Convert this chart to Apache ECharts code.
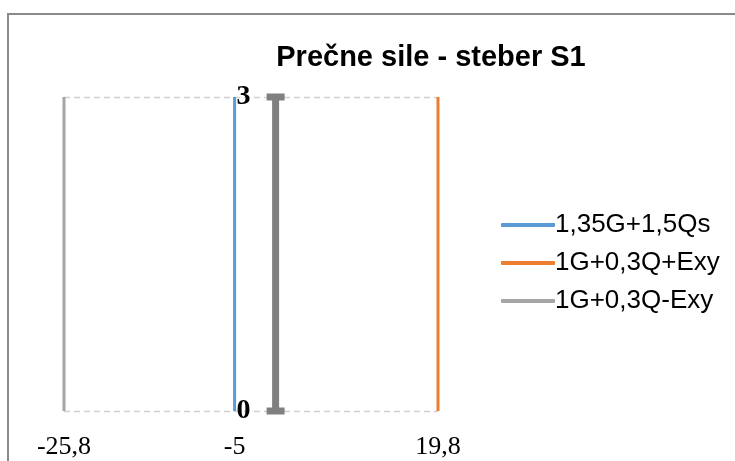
<!DOCTYPE html>
<html><head><meta charset="utf-8">
<script src="https://cdn.jsdelivr.net/npm/echarts@6/dist/echarts.min.js"></script>
<style>html,body{margin:0;padding:0;background:#fff}#c{width:735px;height:461px}</style>
</head><body><div id="c"></div>
<script>
const title = 'Prečne sile - steber S1';
const seriesNames = ['1,35G+1,5Qs', '1G+0,3Q+Exy', '1G+0,3Q-Exy'];
const seriesColors = ['#5B9BD5', '#ED7D31', '#A5A5A5'];
const heights = [0, 3];
const forceBlue = [-5, -5];
const forceOrange = [19.8, 19.8];
const forceGray = [-25.8, -25.8];
const xTickValues = [-25.8, -5, 19.8];
const columnX = [0, 0];

const X_MIN = -25.8, X_MAX = 19.8;
const GRID_LEFT = 64, GRID_RIGHT = 297;
const fmt = v => String(Math.round(v * 10) / 10).replace('.', ',');
const pairs = (xs) => xs.map((x, i) => [x, heights[i]]);
const plotW = 735 - GRID_LEFT - GRID_RIGHT;
const yAxisOffset = -((0 - X_MIN) / (X_MAX - X_MIN)) * plotW;

const chart = echarts.init(document.getElementById('c'));
chart.setOption({
  animation: false,
  graphic: [{ type: 'rect', shape: { x: 8, y: 14, width: 900, height: 600 }, style: { fill: 'none', stroke: '#8a8a8a', lineWidth: 2 }, silent: true }],
  title: { text: title, left: 426, textAlign: 'center', top: 38, textStyle: { fontFamily: 'Liberation Sans', fontWeight: 'bold', fontSize: 29, color: '#000' } },
  grid: { left: GRID_LEFT, right: GRID_RIGHT, top: 97, bottom: 50, containLabel: false },
  legend: {
    orient: 'vertical', left: 496, top: 207, itemWidth: 54, itemHeight: 4, itemGap: 12,
    icon: 'roundRect',
    data: seriesNames,
    textStyle: { fontFamily: 'Liberation Sans', fontSize: 26, lineHeight: 26, color: '#000', padding: [0, 0, 0, -5] }
  },
  xAxis: {
    type: 'value', min: X_MIN, max: X_MAX,
    axisLine: { show: false }, axisTick: { show: false }, splitLine: { show: false },
    axisLabel: { customValues: xTickValues, formatter: fmt, margin: 23, fontFamily: 'Liberation Serif', fontSize: 26, color: '#000' }
  },
  yAxis: {
    type: 'value', min: 0, max: 3, interval: 3, offset: yAxisOffset,
    axisLine: { show: false },
    axisTick: { show: false },
    axisLabel: { margin: 25, fontFamily: 'Liberation Serif', fontWeight: 'bold', fontSize: 28, color: '#000' },
    splitLine: { show: true, lineStyle: { color: '#D0D0D0', type: [6, 4], width: 1.3 } }
  },
  series: [
    { name: seriesNames[0], type: 'line', data: pairs(forceBlue), symbol: 'none', lineStyle: { width: 3, color: seriesColors[0] }, itemStyle: { color: seriesColors[0] }, z: 3 },
    { name: seriesNames[1], type: 'line', data: pairs(forceOrange), symbol: 'none', lineStyle: { width: 3, color: seriesColors[1] }, itemStyle: { color: seriesColors[1] }, z: 3 },
    { name: seriesNames[2], type: 'line', data: pairs(forceGray), symbol: 'none', lineStyle: { width: 3, color: seriesColors[2] }, itemStyle: { color: seriesColors[2] }, z: 3 },
    { name: 'column', type: 'line', data: pairs(columnX), symbol: 'rect', symbolSize: [18, 7], showSymbol: true,
      lineStyle: { width: 7, color: '#808080' }, itemStyle: { color: '#808080' }, z: 4 }
  ]
});
</script></body></html>
